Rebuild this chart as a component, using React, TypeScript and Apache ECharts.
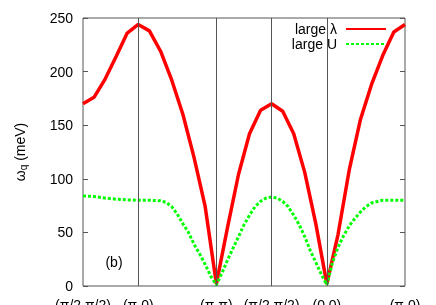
import React, { useEffect, useRef } from "react";
import * as echarts from "echarts";

const FONT = "'Liberation Sans', Arial, Helvetica, sans-serif";

// path coordinate (units of pi) of the high-symmetry points and their labels
const tickPos = [0, 0.7071, 1.7071, 2.4142, 3.1213, 4.1213];
const tickLabels = ["(π/2,π/2)", "(π,0)", "(π,π)", "(π/2,π/2)", "(0,0)", "(π,0)"];
const gridLines = [0.7071, 1.7071, 2.4142, 3.1213];

// large lambda branch
const lambdaK = [
  0, 0.141, 0.283, 0.424, 0.566, 0.707,
  0.85, 0.993, 1.136, 1.279, 1.421, 1.564, 1.707,
  1.848, 1.99, 2.131, 2.273, 2.414,
  2.556, 2.697, 2.838, 2.98, 3.121,
  3.264, 3.407, 3.55, 3.693, 3.836, 3.978, 4.121,
];
const lambdaW = [
  170, 176, 193, 214, 236, 244,
  238, 219, 192, 160, 120, 74, 2,
  54, 104, 142, 164, 170,
  163, 142, 106, 58, 2,
  48, 108, 155, 188, 215, 237, 244,
];

// large U branch
const uK = [
  0, 0.141, 0.283, 0.424, 0.566, 0.707,
  0.85, 0.993, 1.064, 1.136, 1.207, 1.279, 1.35, 1.421, 1.493, 1.564, 1.636, 1.707,
  1.778, 1.848, 1.919, 1.99, 2.06, 2.131, 2.202, 2.273, 2.343, 2.414,
  2.485, 2.556, 2.626, 2.697, 2.768, 2.838, 2.909, 2.98, 3.05, 3.121,
  3.193, 3.264, 3.336, 3.407, 3.479, 3.55, 3.621, 3.693, 3.836, 3.978, 4.121,
];
const uW = [
  84, 83.5, 82, 81, 80.3, 80,
  80, 79.5, 78, 74, 67, 58, 50, 39, 30, 20, 9, 1,
  12, 24, 35, 46, 57, 66, 74, 79, 82, 83,
  82, 79, 74, 66, 57, 46, 33, 22, 11, 1,
  22, 36, 47, 56, 63, 69, 74, 77.5, 80, 80, 80,
];

export default function App() {
  const ref = useRef<HTMLDivElement>(null);
  useEffect(() => {
    const chart = echarts.init(ref.current!, null, { renderer: "svg" });
    chart.setOption({
      animation: false,
      textStyle: { fontFamily: FONT },
      grid: {
        left: 83,
        right: 31,
        top: 18,
        bottom: 19,
        show: true,
        borderColor: "#555",
        borderWidth: 1,
        backgroundColor: "transparent",
        containLabel: false,
        outerBoundsMode: "none",
      },
      legend: {
        orient: "vertical",
        right: 49,
        top: 22,
        padding: 0,
        itemWidth: 40,
        itemHeight: 14,
        itemGap: 1,
        align: "right",
        selectedMode: false,
        itemStyle: { opacity: 0 },
        data: ["large λ", "large U"],
        textStyle: { fontSize: 14, color: "#000", fontFamily: FONT, padding: [0, 4, 0, 0] },
      },
      xAxis: {
        type: "value",
        min: 0,
        max: 4.1213,
        axisLine: { show: false },
        axisTick: { show: false },
        splitLine: { show: false },
        axisLabel: {
          customValues: tickPos,
          margin: 12,
          fontSize: 14,
          color: "#000",
          fontFamily: FONT,
          showMinLabel: true,
          showMaxLabel: true,
          hideOverlap: false,
          formatter: (v: number) => {
            let best = 0;
            tickPos.forEach((t, i) => {
              if (Math.abs(t - v) < Math.abs(tickPos[best] - v)) best = i;
            });
            return tickLabels[best];
          },
        },
      },
      yAxis: [
        {
          type: "value",
          min: 0,
          max: 250,
          interval: 50,
          position: "left",
          axisLine: { show: false },
          axisTick: { show: true, inside: true, length: 5, lineStyle: { color: "#555" } },
          splitLine: { show: false },
          axisLabel: { fontSize: 14, color: "#000", margin: 10, fontFamily: FONT },
          name: "{a|ω}{s|q}{a| (meV)}",
          nameLocation: "middle",
          nameGap: 55,
          nameRotate: 90,
          nameTextStyle: {
            color: "#000",
            fontSize: 14,
            fontFamily: FONT,
            rich: {
              a: { fontSize: 14, color: "#000", fontFamily: FONT },
              s: { fontSize: 10, color: "#000", fontFamily: FONT, padding: [7, 0, 0, 0] },
            },
          },
        },
        {
          type: "value",
          min: 0,
          max: 250,
          interval: 50,
          position: "right",
          axisLine: { show: false },
          axisTick: { show: true, inside: true, length: 5, lineStyle: { color: "#555" } },
          splitLine: { show: false },
          axisLabel: { show: false },
        },
      ],
      graphic: [
        {
          type: "text",
          style: {
            x: 114,
            y: 262,
            text: "(b)",
            align: "center",
            verticalAlign: "middle",
            fontSize: 14,
            fontFamily: FONT,
            fill: "#000",
          },
        },
      ],
      series: [
        {
          type: "line",
          name: "grid",
          data: [],
          z: 1,
          silent: true,
          markLine: {
            silent: true,
            symbol: ["none", "none"],
            label: { show: false },
            lineStyle: { color: "#555", width: 1, type: "solid" },
            data: gridLines.map((x) => ({ xAxis: x })),
          },
        },
        {
          type: "line",
          name: "large λ",
          data: lambdaK.map((k, i) => [k, lambdaW[i]]),
          symbol: "none",
          z: 3,
          lineStyle: { color: "#ff0000", width: 3.5 },
          itemStyle: { color: "#ff0000" },
        },
        {
          type: "line",
          name: "large U",
          data: uK.map((k, i) => [k, uW[i]]),
          symbol: "none",
          z: 4,
          lineStyle: { color: "#00ff00", width: 3, type: [3, 2] },
          itemStyle: { color: "#00ff00" },
        },
      ],
    });
    return () => chart.dispose();
  }, []);
  return (
    <div
      ref={ref}
      style={{ position: "fixed", left: 0, top: 0, width: 436, height: 305 }}
    />
  );
}
